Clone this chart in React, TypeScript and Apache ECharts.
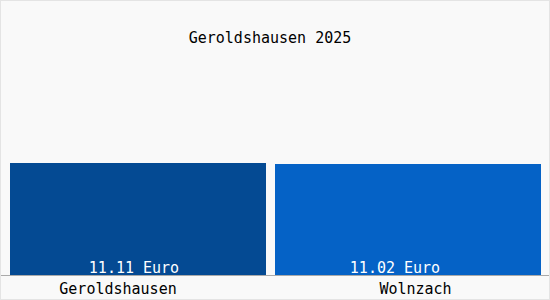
import React, { useEffect, useRef } from "react";
import * as echarts from "echarts";

const categories = ["Geroldshausen", "Wolnzach"];
const values = [11.11, 11.02];
const valueLabels = ["11.11 Euro", "11.02 Euro"];
const titleText = "Geroldshausen 2025";

const FONT = "'DejaVu Sans Mono', 'Liberation Mono', monospace";

export default function App() {
  const ref = useRef<HTMLDivElement>(null);
  useEffect(() => {
    if (!ref.current) return;
    const chart = echarts.init(ref.current, null, { renderer: "svg" });
    const colors = ["#044a93", "#0562c6"];
    const gridLeft = [10, 275];
    const gridWidth = [256, 266];
    const labelOffsets = [-4, -13];
    const catPad = [
      [0, 40, 0, 0],
      [0, 0, 0, 15],
    ];
    const grids: any[] = categories.map((_, i) => ({
      left: gridLeft[i],
      width: gridWidth[i],
      top: 73.4,
      bottom: 25,
    }));
    grids.push({ left: 0, right: 0, top: 73.4, bottom: 25 });
    const xAxes: any[] = categories.map((c, i) => ({
      type: "category",
      data: [c],
      gridIndex: i,
      axisLine: { show: false },
      axisTick: { show: false },
      axisLabel: {
        margin: 6,
        fontFamily: FONT,
        fontSize: 15,
        color: "#000",
        padding: catPad[i],
      },
    }));
    xAxes.push({
      type: "category",
      data: [""],
      gridIndex: 2,
      axisLine: { show: true, lineStyle: { color: "#aaaaaa", width: 1 } },
      axisTick: { show: false },
      axisLabel: { show: false },
    });
    const yAxes = [0, 1, 2].map((g) => ({
      type: "value",
      min: 0,
      max: 20,
      show: false,
      gridIndex: g,
      splitLine: { show: false },
    }));
    const series = values.map((v, i) => ({
      type: "bar",
      xAxisIndex: i,
      yAxisIndex: i,
      barWidth: "100%",
      itemStyle: { color: colors[i] },
      label: {
        show: true,
        position: "insideBottom",
        distance: 0,
        offset: [labelOffsets[i], 0],
        formatter: valueLabels[i],
        color: "#ffffff",
        fontFamily: FONT,
        fontSize: 15,
      },
      data: [v],
    }));
    chart.setOption({
      animation: false,
      backgroundColor: "#f9f9f9",
      title: {
        text: titleText,
        left: 265,
        top: 25,
        textAlign: "center",
        textStyle: { fontFamily: FONT, fontSize: 15, fontWeight: "normal", color: "#000" },
      },
      grid: grids,
      xAxis: xAxes,
      yAxis: yAxes,
      series,
    });
    return () => chart.dispose();
  }, []);
  return (
    <div style={{ position: "fixed", left: 0, top: 0, width: 550, height: 300 }}>
      <div ref={ref} style={{ width: 550, height: 300 }} />
      <div
        style={{
          position: "absolute",
          left: 0,
          top: 0,
          width: 550,
          height: 300,
          boxSizing: "border-box",
          border: "1px solid #e4e4e4",
          pointerEvents: "none",
        }}
      />
    </div>
  );
}
